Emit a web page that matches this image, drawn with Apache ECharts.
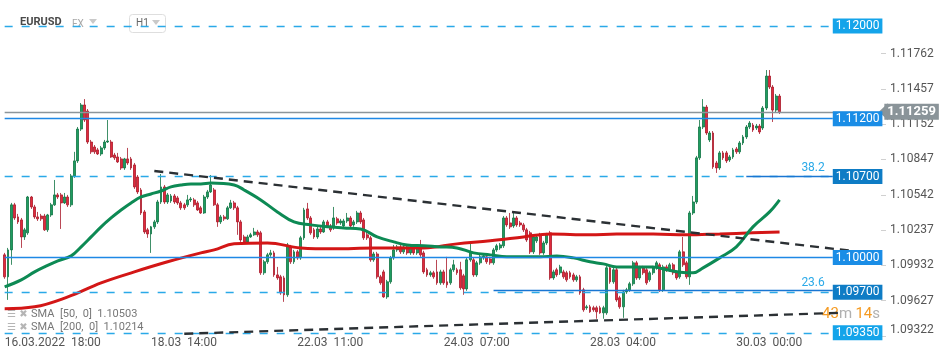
<!DOCTYPE html>
<html><head><meta charset="utf-8">
<script src="https://cdn.jsdelivr.net/npm/echarts@6/dist/echarts.min.js"></script>
<style>html,body{margin:0;padding:0;background:#fff}#c{width:950px;height:360px}</style>
</head><body><div id="c"></div>
<script>
// ---------- DATA ----------
const barCount = 264; // 234 traded hours + empty future slots on the right
const xTickIndex = [0, 44, 88, 132, 176, 220];
const xTickLabels = ['16.03.2022  18:00', '18.03  14:00', '22.03  11:00', '24.03  07:00', '28.03  04:00', '30.03  00:00'];
const yTickValues = [1.09322, 1.09627, 1.09932, 1.10237, 1.10542, 1.10847, 1.11152, 1.11457, 1.11762];

const opens = [1.10023,1.09833,1.10066,1.10455,1.10351,1.10325,1.10178,1.10213,1.10523,1.10437,
1.10351,1.10359,1.10359,1.10239,1.10368,1.10455,1.10541,1.10541,1.10472,1.10523,
1.10455,1.10705,1.10835,1.11110,1.11318,1.11266,1.10998,1.10955,1.10930,1.10895,
1.10947,1.10998,1.10998,1.10886,1.10869,1.10852,1.10774,1.10852,1.10852,1.10800,
1.10696,1.10584,1.10394,1.10239,1.10204,1.10265,1.10308,1.10480,1.10610,1.10480,
1.10489,1.10532,1.10515,1.10472,1.10455,1.10455,1.10498,1.10498,1.10472,1.10429,
1.10385,1.10523,1.10567,1.10584,1.10455,1.10308,1.10351,1.10334,1.10429,1.10472,
1.10429,1.10308,1.10178,1.10135,1.10178,1.10196,1.10221,1.10213,1.09868,1.09963,
1.10023,1.10040,1.09850,1.09833,1.09824,1.09678,1.10092,1.09963,1.10049,1.09997,
1.10170,1.10420,1.10342,1.10239,1.10178,1.10247,1.10221,1.10308,1.10273,1.10256,
1.10334,1.10299,1.10273,1.10316,1.10342,1.10282,1.10308,1.10385,1.10325,1.10196,
1.10170,1.09980,1.10031,1.09833,1.09876,1.09660,1.09790,1.09997,1.10066,1.10092,
1.10049,1.10092,1.10040,1.10083,1.10040,1.10092,1.10040,1.09894,1.09850,1.09868,
1.09876,1.09781,1.09876,1.09790,1.09781,1.09894,1.09894,1.09894,1.09842,1.09729,
1.09980,1.09980,1.09850,1.09954,1.09997,1.10006,1.09988,1.09954,1.10066,1.10083,
1.10101,1.10342,1.10299,1.10273,1.10342,1.10299,1.10282,1.10239,1.10213,1.10049,
1.10144,1.10196,1.10040,1.10126,1.10213,1.09824,1.09894,1.09868,1.09876,1.09868,
1.09868,1.09850,1.09807,1.09833,1.09721,1.09566,1.09574,1.09566,1.09566,1.09566,
1.09522,1.09522,1.09911,1.09790,1.09894,1.09652,1.09574,1.09703,1.09721,1.09773,
1.09954,1.09824,1.09911,1.09894,1.09807,1.09868,1.09911,1.09937,1.09721,1.09919,
1.09894,1.09937,1.09868,1.09833,1.10049,1.09954,1.09833,1.10385,1.10480,1.10861,
1.11128,1.11300,1.11016,1.11076,1.10817,1.10774,1.10904,1.10904,1.10843,1.10869,
1.10938,1.10913,1.10990,1.11042,1.11128,1.11145,1.11119,1.11136,1.11119,1.11292,
1.11568,1.11473,1.11274,1.11395];

const closes = [1.09833,1.10066,1.10455,1.10342,1.10308,1.10178,1.10239,1.10523,1.10437,1.10351,
1.10334,1.10334,1.10239,1.10368,1.10455,1.10541,1.10523,1.10472,1.10523,1.10455,
1.10705,1.10835,1.11110,1.11318,1.11188,1.10998,1.10913,1.10913,1.10895,1.10947,
1.10998,1.11007,1.10869,1.10861,1.10826,1.10774,1.10852,1.10817,1.10774,1.10610,
1.10567,1.10385,1.10221,1.10204,1.10265,1.10308,1.10480,1.10610,1.10480,1.10541,
1.10532,1.10480,1.10472,1.10429,1.10429,1.10498,1.10506,1.10455,1.10411,1.10385,
1.10523,1.10567,1.10627,1.10455,1.10308,1.10351,1.10334,1.10429,1.10472,1.10429,
1.10308,1.10152,1.10135,1.10178,1.10196,1.10221,1.10196,1.09868,1.09963,1.10023,
1.10040,1.09850,1.09824,1.09695,1.09678,1.10109,1.09963,1.10049,1.09997,1.10170,
1.10411,1.10342,1.10213,1.10178,1.10247,1.10221,1.10308,1.10273,1.10239,1.10342,
1.10299,1.10316,1.10316,1.10342,1.10273,1.10308,1.10385,1.10308,1.10170,1.10170,
1.09980,1.10031,1.09833,1.09781,1.09660,1.09790,1.09997,1.10066,1.10092,1.10049,
1.10092,1.10040,1.10083,1.10040,1.10092,1.10023,1.09876,1.09850,1.09868,1.09833,
1.09781,1.09876,1.09781,1.09764,1.09894,1.09937,1.09868,1.09738,1.09729,1.09980,
1.10049,1.09850,1.09954,1.10006,1.10014,1.09963,1.09954,1.10066,1.10101,1.10109,
1.10342,1.10282,1.10265,1.10342,1.10282,1.10282,1.10239,1.10152,1.10049,1.10178,
1.10178,1.10040,1.10126,1.10196,1.09824,1.09876,1.09850,1.09919,1.09833,1.09807,
1.09833,1.09807,1.09833,1.09695,1.09548,1.09574,1.09531,1.09548,1.09531,1.09522,
1.09566,1.09911,1.09790,1.09894,1.09634,1.09574,1.09703,1.09721,1.09773,1.09954,
1.09824,1.09911,1.09868,1.09781,1.09868,1.09911,1.09954,1.09721,1.09919,1.09894,
1.09937,1.09868,1.09824,1.10049,1.09937,1.09833,1.10385,1.10480,1.10861,1.11128,
1.11300,1.11076,1.11076,1.10783,1.10774,1.10904,1.10861,1.10835,1.10869,1.10930,
1.10913,1.10990,1.11042,1.11128,1.11162,1.11102,1.11136,1.11085,1.11292,1.11568,
1.11473,1.11274,1.11395,1.11259];

const lows = [1.09816,1.09634,1.09937,1.10325,1.10290,1.10083,1.10152,1.10196,1.10420,1.10334,
1.10316,1.10316,1.10230,1.10221,1.10351,1.10446,1.10506,1.10247,1.10463,1.10437,
1.10437,1.10688,1.10817,1.11093,1.11171,1.10981,1.10895,1.10895,1.10886,1.10878,
1.10930,1.10990,1.10861,1.10843,1.10817,1.10757,1.10757,1.10800,1.10757,1.10593,
1.10549,1.10368,1.10204,1.10170,1.10040,1.10247,1.10290,1.10463,1.10463,1.10463,
1.10472,1.10463,1.10455,1.10411,1.10411,1.10437,1.10480,1.10437,1.10403,1.10377,
1.10377,1.10506,1.10558,1.10446,1.10265,1.10290,1.10316,1.10325,1.10420,1.10411,
1.10196,1.10135,1.10118,1.10126,1.10170,1.10187,1.10178,1.09850,1.09850,1.09945,
1.10006,1.09833,1.09807,1.09678,1.09617,1.09660,1.09945,1.09945,1.09980,1.09980,
1.10152,1.10325,1.10196,1.10161,1.10161,1.10204,1.10213,1.10256,1.10221,1.10239,
1.10282,1.10282,1.10256,1.10299,1.10256,1.10265,1.10290,1.10290,1.10152,1.10152,
1.09963,1.09963,1.09816,1.09764,1.09652,1.09643,1.09773,1.09980,1.10049,1.10031,
1.10031,1.10023,1.10023,1.10023,1.10023,1.10006,1.09859,1.09833,1.09833,1.09816,
1.09764,1.09764,1.09764,1.09738,1.09764,1.09876,1.09850,1.09721,1.09678,1.09712,
1.09963,1.09833,1.09833,1.09937,1.09980,1.09945,1.09937,1.09937,1.10049,1.10066,
1.10083,1.10265,1.10247,1.10256,1.10265,1.10265,1.10221,1.10135,1.10031,1.10031,
1.10126,1.10023,1.10023,1.10109,1.09807,1.09807,1.09833,1.09850,1.09816,1.09790,
1.09816,1.09790,1.09790,1.09678,1.09531,1.09548,1.09522,1.09531,1.09471,1.09514,
1.09471,1.09505,1.09773,1.09773,1.09617,1.09557,1.09479,1.09686,1.09703,1.09755,
1.09807,1.09807,1.09850,1.09764,1.09790,1.09850,1.09894,1.09703,1.09703,1.09876,
1.09876,1.09850,1.09807,1.09816,1.09919,1.09816,1.09764,1.10368,1.10463,1.10843,
1.11110,1.11059,1.10998,1.10766,1.10731,1.10757,1.10843,1.10817,1.10826,1.10852,
1.10895,1.10895,1.10972,1.11024,1.11110,1.11085,1.11102,1.11067,1.11102,1.11274,
1.11456,1.11171,1.11257,1.11240];

const highs = [1.10040,1.10083,1.10472,1.10472,1.10377,1.10342,1.10256,1.10532,1.10532,1.10455,
1.10394,1.10377,1.10377,1.10377,1.10472,1.10670,1.10558,1.10558,1.10558,1.10541,
1.10722,1.10913,1.11128,1.11335,1.11369,1.11283,1.11016,1.10972,1.10947,1.10964,
1.11016,1.11188,1.11016,1.10904,1.10904,1.10869,1.10861,1.10947,1.10869,1.10817,
1.10713,1.10601,1.10411,1.10256,1.10273,1.10325,1.10498,1.10722,1.10627,1.10558,
1.10549,1.10549,1.10532,1.10489,1.10472,1.10541,1.10523,1.10515,1.10489,1.10446,
1.10541,1.10584,1.10713,1.10601,1.10472,1.10368,1.10368,1.10446,1.10498,1.10489,
1.10446,1.10325,1.10196,1.10196,1.10213,1.10256,1.10239,1.10230,1.09980,1.10040,
1.10066,1.10058,1.09919,1.09850,1.09842,1.10126,1.10109,1.10066,1.10066,1.10187,
1.10429,1.10472,1.10359,1.10256,1.10265,1.10265,1.10325,1.10325,1.10290,1.10437,
1.10351,1.10334,1.10334,1.10385,1.10359,1.10325,1.10403,1.10403,1.10342,1.10221,
1.10187,1.10049,1.10049,1.09850,1.09894,1.09807,1.10014,1.10109,1.10109,1.10109,
1.10109,1.10109,1.10101,1.10101,1.10109,1.10152,1.10058,1.09911,1.09885,1.09885,
1.09980,1.09894,1.09894,1.10006,1.09911,1.09980,1.09911,1.09963,1.09859,1.09997,
1.10126,1.09997,1.09971,1.10023,1.10031,1.10023,1.10006,1.10083,1.10118,1.10126,
1.10359,1.10359,1.10385,1.10385,1.10359,1.10316,1.10299,1.10256,1.10230,1.10196,
1.10196,1.10213,1.10144,1.10213,1.10230,1.09894,1.09911,1.09937,1.09894,1.09885,
1.09885,1.09868,1.09850,1.09850,1.09738,1.09591,1.09591,1.09583,1.09583,1.09583,
1.09583,1.09928,1.09928,1.09911,1.09911,1.09669,1.09721,1.09738,1.09790,1.09971,
1.09971,1.09928,1.09928,1.09911,1.09885,1.09928,1.09971,1.09954,1.09937,1.09937,
1.09954,1.09954,1.09885,1.10066,1.10178,1.09971,1.10403,1.10532,1.10878,1.11188,
1.11369,1.11318,1.11093,1.11093,1.10835,1.10921,1.10921,1.10921,1.10886,1.10947,
1.10955,1.11007,1.11059,1.11145,1.11179,1.11162,1.11154,1.11154,1.11309,1.11620,
1.11620,1.11490,1.11413,1.11413];

// moving averages: [bar index, value]
const sma50 = [[0,1.09747],[5,1.09807],[9,1.09876],[12,1.09919],[16,1.09971],[20,1.10014],[23,1.10092],[26,1.10178],
[29,1.10265],[32,1.10342],[35,1.10411],[38,1.10472],[41,1.10523],[44,1.10549],[47,1.10575],[50,1.10610],[53,1.10627],
[56,1.10636],[59,1.10636],[62,1.10644],[69,1.10627],[72,1.10584],[77,1.10498],[82,1.10394],[87,1.10308],[92,1.10282],
[97,1.10265],[102,1.10256],[107,1.10247],[112,1.10178],[117,1.10135],[121,1.10109],[126,1.10101],[131,1.10092],
[136,1.10083],[141,1.10040],[146,1.10023],[151,1.10006],[156,1.10006],[161,1.10006],[166,1.10014],[171,1.09997],
[176,1.09963],[180,1.09945],[184,1.09919],[190,1.09919],[195,1.09919],[199,1.09894],[205,1.09868],[207,1.09868],
[210,1.09911],[215,1.09997],[220,1.10092],[225,1.10265],[230,1.10394],[233,1.10498]];
const sma200 = [[0,1.09557],[9,1.09574],[19,1.09660],[29,1.09781],[39,1.09876],[49,1.09963],[59,1.10040],[63,1.10066],
[69,1.10118],[79,1.10126],[89,1.10083],[99,1.10075],[111,1.10083],[126,1.10083],[136,1.10118],[146,1.10144],
[156,1.10178],[164,1.10204],[176,1.10196],[184,1.10204],[195,1.10204],[205,1.10196],[215,1.10204],[225,1.10213],[233,1.10221]];

// horizontal levels with price boxes
const levelValues = [1.12000, 1.11200, 1.10700, 1.10000, 1.09700, 1.09350];
const levelEndIndex = 249;
// trend lines and fibonacci lines: [bar index, price]
const trendUpper = [[45, 1.10748], [260, 1.10040]];
const trendLower = [[54, 1.09341], [251, 1.09522]];
const fibLevels = [{name: '38.2', from: 223, value: 1.10703}, {name: '23.6', from: 147, value: 1.09715}];
const legendTexts = ['SMA  [50,  0]  1.10503', 'SMA  [200,  0]  1.10214'];

// ---------- BUILD ----------
function buildCategories(count) {
  const out = [];
  let t = Date.UTC(2022, 2, 16, 18);
  const p = n => String(n).padStart(2, '0');
  while (out.length < count) {
    const d = new Date(t), wd = d.getUTCDay(), h = d.getUTCHours();
    const closed = wd === 6 || wd === 0 || (wd === 5 && h === 23);
    if (!closed) out.push(p(d.getUTCDate()) + '.' + p(d.getUTCMonth() + 1) + ' ' + p(h) + ':00');
    t += 3600e3;
  }
  return out;
}
const categories = buildCategories(barCount);
const candles = opens.map((o, i) => [o, closes[i], lows[i], highs[i]]);
const lastClose = closes[closes.length - 1];

const levelLook = [
  {dash: true, box: '#14a4ea'}, {dash: false, box: '#1a8de6'}, {dash: true, box: '#0e7cc5'},
  {dash: false, box: '#1a8de6'}, {dash: true, box: '#0e7cc5'}, {dash: true, box: '#14a4ea'}];
const FONT = 'Roboto';

const levelLines = levelValues.map((v, k) => [
  {coord: [0, v],
   lineStyle: {color: levelLook[k].dash ? '#2aa9e8' : '#1e88e5', width: levelLook[k].dash ? 1.4 : 1.3,
               type: levelLook[k].dash ? [8, 9] : 'solid', opacity: 1},
   label: {show: true, position: 'end', distance: 0, formatter: v.toFixed(5), backgroundColor: levelLook[k].box,
           color: '#fff', fontFamily: FONT, fontSize: 12, lineHeight: 12, padding: [2, 3, 1, 3]}},
  {coord: [levelEndIndex, v]}
]);
const priceLine = [
  {coord: [0, lastClose], lineStyle: {color: '#8c959a', width: 1.3, type: 'solid'},
   label: {show: true, position: 'end', distance: 5, formatter: lastClose.toFixed(5), backgroundColor: '#8a9499',
           color: '#fff', fontFamily: FONT, fontSize: 13, fontWeight: 'bold', lineHeight: 13, padding: [2, 3, 1, 3]}},
  {coord: [barCount - 1, lastClose]}
];
const fibLines = fibLevels.map(f => [
  {coord: [f.from, f.value], lineStyle: {color: '#1976d2', width: 1.3, type: 'solid'},
   label: {show: true, position: 'insideEndTop', distance: [8, 2], formatter: f.name, color: '#2aa9e8',
           fontFamily: FONT, fontSize: 12}},
  {coord: [levelEndIndex, f.value]}
]);
const trendLines = [trendUpper, trendLower].map(t => [
  {coord: t[0], lineStyle: {color: '#2b3034', width: 2.4, type: [9, 6]}, label: {show: false}},
  {coord: t[1]}
]);

const chart = echarts.init(document.getElementById('c'), null, {renderer: 'canvas'});
chart.setOption({
  animation: false,
  backgroundColor: '#fff',
  grid: {left: 3, right: 69, top: 0, bottom: 24, containLabel: false, outerBoundsMode: 'none'},
  xAxis: {
    type: 'category', data: categories, boundaryGap: true,
    axisLine: {show: false}, axisTick: {show: false}, splitLine: {show: false},
    axisLabel: {
      interval: (idx) => xTickIndex.indexOf(idx) >= 0,
      formatter: (val, idx) => { const k = xTickIndex.indexOf(idx); return k >= 0 ? xTickLabels[k] : ''; },
      align: 'left', margin: 1, color: '#555', fontFamily: FONT, fontSize: 12, hideOverlap: false
    }
  },
  yAxis: {
    type: 'value', position: 'right', min: 1.09322, max: 1.12225, scale: true,
    axisLine: {show: false}, splitLine: {show: false},
    axisTick: {show: true, length: 5, inside: false, customValues: yTickValues, lineStyle: {color: '#d0d0d0'}},
    axisLabel: {customValues: yTickValues, formatter: v => v.toFixed(5), margin: 9, color: '#555',
                fontFamily: FONT, fontSize: 12, verticalAlignMinLabel: 'bottom'}
  },
  series: [
    {
      type: 'candlestick', data: candles, barWidth: 2.4,
      itemStyle: {color: '#1f9c60', borderColor: '#0f7442', color0: '#e02a3c', borderColor0: '#a8192a', borderWidth: 0.8},
      markLine: {silent: true, symbol: ['none', 'none'], animation: false, data: levelLines.concat([priceLine])},
      markPoint: {silent: true, animation: false, data: [
        {coord: [barCount - 1, lastClose], symbol: 'triangle', symbolRotate: 90, symbolSize: [17, 9],
         symbolOffset: [4, 0], itemStyle: {color: '#8a9499'}, label: {show: false}}]}
    },
    {
      name: 'SMA200', type: 'line', data: sma200, smooth: 0.4, showSymbol: false, symbol: 'none',
      lineStyle: {color: '#d31616', width: 3}, z: 3
    },
    {
      name: 'SMA50', type: 'line', data: sma50, smooth: 0.4, showSymbol: false, symbol: 'none',
      lineStyle: {color: '#0d8a54', width: 3}, z: 3,
      markLine: {silent: true, symbol: ['none', 'none'], animation: false, data: trendLines.concat(fibLines)}
    }
  ],
  graphic: [
    {type: 'text', left: 20, top: 17, style: {text: 'EURUSD', font: 'bold 11px Roboto', fill: '#4a4a4a'}},
    {type: 'text', left: 72, top: 19, style: {text: 'FX', font: '10px Roboto', fill: '#a8a8a8'}},
    {type: 'polygon', shape: {points: [[89, 19], [97, 19], [93, 24]]}, style: {fill: '#c9c9c9'}},
    {type: 'rect', shape: {x: 129.5, y: 14.5, width: 36, height: 18, r: 3}, style: {fill: 'none', stroke: '#dedede', lineWidth: 1}},
    {type: 'text', left: 136, top: 18, style: {text: 'H1', font: '10px Roboto', fill: '#666'}},
    {type: 'polygon', shape: {points: [[152, 20], [160, 20], [156, 25]]}, style: {fill: '#c9c9c9'}},
    {type: 'text', left: 7, top: 308, style: {
      text: '{i|☰} {i|✖} {t|' + legendTexts[0] + '}',
      rich: {i: {fontSize: 10, fill: '#b5b5b5', fontFamily: 'DejaVu Sans'}, t: {fontSize: 11, fill: '#777', fontFamily: FONT}}}},
    {type: 'text', left: 7, top: 321, style: {
      text: '{i|☰} {i|✖} {t|' + legendTexts[1] + '}',
      rich: {i: {fontSize: 10, fill: '#b5b5b5', fontFamily: 'DejaVu Sans'}, t: {fontSize: 11, fill: '#777', fontFamily: FONT}}}},
    {type: 'text', right: 70, top: 307, style: {
      text: '{o|43}{g|m} {o|14}{g|s}',
      rich: {o: {fontSize: 15, fill: '#f59b23', fontFamily: FONT}, g: {fontSize: 15, fill: '#b0b0b0', fontFamily: FONT}}}}
  ]
});
</script>
</body></html>
